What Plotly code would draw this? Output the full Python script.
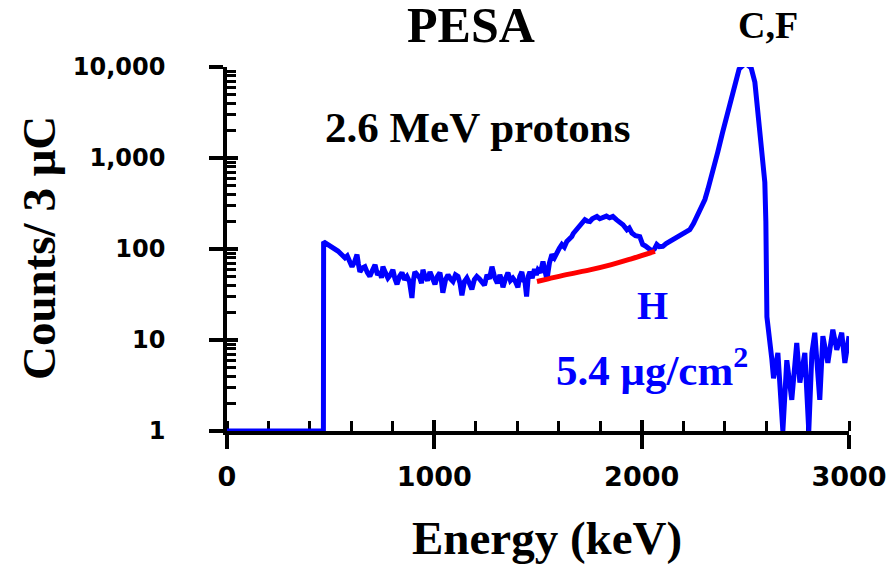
import plotly.graph_objects as go

# Spectrum
energy = [0, 465, 466, 480, 495, 510, 521, 535, 550, 569, 580, 592, 603, 615, 627, 634, 641, 653, 665, 677,
          689, 701, 714, 726, 738, 745, 752, 764, 776, 788, 800, 810, 820, 832, 844, 856, 868, 880, 892, 899,
          906, 918, 930, 938, 945, 955, 967, 979, 991, 1003, 1015, 1027, 1034, 1041, 1054, 1066, 1078, 1090,
          1102, 1114, 1124, 1133, 1145, 1157, 1169, 1181, 1193, 1205, 1218, 1230, 1242, 1254, 1266, 1278,
          1285, 1292, 1304, 1316, 1324, 1331, 1343, 1355, 1367, 1379, 1391, 1403, 1412, 1422, 1430, 1437,
          1445, 1453, 1461, 1472, 1483, 1492, 1500, 1512, 1524, 1533, 1543, 1555, 1567, 1579, 1591, 1603,
          1615, 1627, 1639, 1651, 1663, 1670, 1678, 1690, 1702, 1714, 1726, 1738, 1750, 1762, 1774, 1784,
          1798, 1813, 1830, 1845, 1861, 1878, 1895, 1910, 1929, 1940, 1953, 1970, 1991, 2005, 2018, 2030,
          2040, 2050, 2062, 2073, 2085, 2102, 2118, 2136, 2152, 2170, 2185, 2199, 2215, 2232, 2250, 2266,
          2280, 2290, 2305, 2319, 2340, 2367, 2390, 2416, 2440, 2459, 2470, 2500, 2528, 2546, 2555, 2570,
          2580, 2594, 2599, 2604, 2628, 2636, 2657, 2676, 2681, 2700, 2724, 2748, 2763, 2787, 2801, 2806,
          2821, 2835, 2859, 2874, 2898, 2922, 2941, 2965, 2980, 3000]
counts = [1, 1, 120, 115, 110, 104, 98, 95, 88, 80, 84, 70, 64, 72, 87, 68, 56, 62, 64, 55,
          50, 58, 67, 52, 56, 48, 64, 55, 48, 52, 59, 47, 41, 50, 55, 46, 50, 44, 29, 45,
          56, 52, 48, 42, 59, 50, 45, 56, 47, 41, 50, 55, 45, 33, 46, 52, 47, 44,
          52, 50, 42, 31, 44, 48, 42, 36, 46, 50, 47, 44, 40, 52, 47, 64,
          52, 48, 42, 52, 46, 38, 47, 55, 45, 48, 44, 38, 50, 56, 45, 44,
          30, 50, 56, 48, 60, 52, 59, 55, 73, 60, 46, 70, 87, 80, 94, 102,
          112, 105, 121, 128, 137, 148, 156, 165, 177, 190, 210, 202, 200, 215, 222, 228,
          215, 220, 230, 220, 228, 210, 200, 185, 163, 170, 150, 140, 137, 112, 108, 104,
          98, 95, 100, 112, 106, 107, 115, 121, 127, 133, 138, 144, 150, 163, 190, 228,
          260, 295, 350, 450, 650, 1160, 1900, 3200, 5200, 7700, 9500, 11000, 9800, 6800, 4200, 2200,
          1500, 540, 200, 18, 6.1, 3.8, 7.2, 1, 1, 6, 2.2, 9.3, 3.4, 7.2, 1, 1,
          7.2, 12, 2.2, 11, 5.6, 13, 7.8, 12, 5.6, 11]

# Background under H peak
bg_energy = [1495, 1550, 1650, 1750, 1850, 1950, 2064]
bg_counts = [44, 47, 53, 59, 67, 78, 94]

y_major = [1, 10, 100, 1000, 10000]
y_major_text = ["1", "10", "100", "1,000", "10,000"]
x_major = [0, 1000, 2000, 3000]
y_minor = [m * d for d in [1, 10, 100, 1000] for m in range(2, 10)]

serif = "Liberation Serif"
sans = "DejaVu Sans"

fig = go.Figure()
fig.add_trace(go.Scatter(x=energy, y=counts, mode="lines",
                         line=dict(color="#0000FF", width=5), hoverinfo="skip"))
fig.add_trace(go.Scatter(x=bg_energy, y=bg_counts, mode="lines",
                         line=dict(color="#FF0000", width=5, shape="spline"), hoverinfo="skip"))
fig.add_trace(go.Scatter(x=[1500], y=[None], xaxis="x2", yaxis="y2", mode="lines",
                         showlegend=False, hoverinfo="skip"))

fig.update_layout(
    width=895, height=567,
    margin=dict(l=219, r=54, t=59, b=144),
    paper_bgcolor="white", plot_bgcolor="white",
    showlegend=False,
    xaxis=dict(range=[0, 3000], showgrid=False, zeroline=False, automargin=False,
               showline=True, linecolor="black", linewidth=3.5, layer="below traces",
               ticks="outside", ticklen=14, tickwidth=3.5, tickcolor="black",
               tickvals=x_major, ticktext=[f"<b>{v}</b>" for v in x_major],
               tickfont=dict(family=sans, size=27, color="black"),
               ticklabelstandoff=5,
               minor=dict(ticks="inside", dtick=200, ticklen=10, tickwidth=3, tickcolor="black", showgrid=False)),
    yaxis=dict(type="log", range=[0, 4], showgrid=False, zeroline=False, automargin=False,
               showline=True, linecolor="black", linewidth=3.5,
               ticks="outside", ticklen=14, tickwidth=3.5, tickcolor="black",
               tickvals=y_major, ticktext=[f"<b>{t}</b>" for t in y_major_text],
               tickfont=dict(family=sans, size=24, color="black"),
               ticklabelstandoff=39,
               minor=dict(ticks="inside", tickvals=y_minor, ticklen=9, tickwidth=3, tickcolor="black", showgrid=False)),
    xaxis2=dict(range=[0, 3000], overlaying="x", anchor="y2", side="bottom", showgrid=False,
                zeroline=False, showline=False, ticks="inside", ticklen=11, tickwidth=3.5,
                tickcolor="black", tickvals=x_major, showticklabels=False, automargin=False),
    yaxis2=dict(type="log", range=[0, 4], overlaying="y", anchor="x2", side="left", showgrid=False,
                zeroline=False, showline=False, ticks="inside", ticklen=11, tickwidth=3.5,
                tickcolor="black", tickvals=y_major, showticklabels=False, automargin=False),
)

annots = [
    dict(x=1176, y=1.115, yref="paper", text="<b>PESA</b>", size=50, color="black"),
    dict(x=2608, y=1.115, yref="paper", text="<b>C,F</b>", size=38, color="black"),
    dict(x=1210, y=3.34, yref="y", text="<b>2.6 MeV protons</b>", size=43, color="black"),
    dict(x=2054, y=1.38, yref="y", text="<b>H</b>", size=40, color="#0000FF"),
    dict(x=2049, y=0.70, yref="y", text="<b>5.4 μg/cm<sup>2</sup></b>", size=43, color="#0000FF"),
]
for a in annots:
    fig.add_annotation(x=a["x"], y=a["y"], xref="x", yref=a["yref"], text=a["text"], showarrow=False,
                       font=dict(family=serif, size=a["size"], color=a["color"]),
                       xanchor="center", yanchor="middle")

# Axis titles
fig.add_annotation(x=0.5145, y=-0.294, xref="paper", yref="paper", text="<b>Energy (keV)</b>",
                   showarrow=False, font=dict(family=serif, size=47, color="black"),
                   xanchor="center", yanchor="middle")
fig.add_annotation(x=-0.302, y=0.503, xref="paper", yref="paper", text="<b>Counts/ 3 μC</b>",
                   showarrow=False, textangle=-90, font=dict(family=serif, size=47, color="black"),
                   xanchor="center", yanchor="middle")

fig.write_html("out.html")
